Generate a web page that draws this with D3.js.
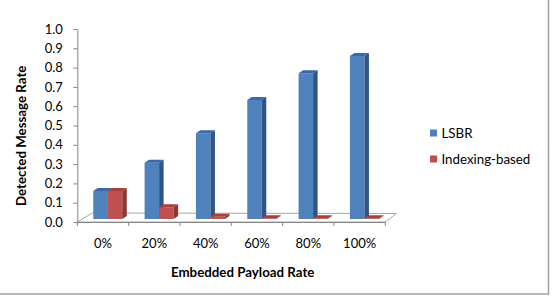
<!DOCTYPE html>
<html>
<head>
<meta charset="utf-8">
<script src="https://cdn.jsdelivr.net/npm/d3@7"></script>
<style>
  body { margin: 0; background: #fff; }
  svg { display: block; font-family: Lato, "Open Sans", sans-serif; }
</style>
</head>
<body>
<svg id="grafico"></svg>
<script>
// dados do gráfico
const categorias = ['0%', '20%', '40%', '60%', '80%', '100%'];
const series = ['LSBR', 'Indexing-based'];
const valoresLSBR = [0.145, 0.292, 0.444, 0.617, 0.755, 0.845];
const valoresIndexing = [0.145, 0.061, 0.012, 0.004, 0.004, 0.004];
const ticksY = [0, 0.1, 0.2, 0.3, 0.4, 0.5, 0.6, 0.7, 0.8, 0.9, 1.0];

const largura = 552, altura = 302;
const svg = d3.select('#grafico').attr('width', largura).attr('height', altura);

// cores (frente, topo, lado)
const cores = {
  'LSBR': ['#4f81bd', '#3b69a3', '#2f5487'],
  'Indexing-based': ['#c0504d', '#a8403d', '#8e3432']
};

// escalas
const fnY = d3.scaleLinear().domain([0, 1]).range([222, 29]);
const fnX = d3.scaleBand().domain(categorias).range([77.3, 385.3]);
const fnSerie = d3.scaleBand().domain(series).range([0, 29]);

// profundidade da barra
const frente = { dx: 4.8, dy: -3 };
const lado = { dx: 4.5, dy: -3 };

// piso
const y0 = fnY(0);
const xi = fnX.range()[0], xf = fnX.range()[1];
svg.append('path')
  .attr('d', `M${xi},${y0}L${xf},${y0}L${xf + 11},${y0 - 8.5}L${xi + 15},${y0 - 9}Z`)
  .attr('fill', '#fff')
  .attr('stroke', '#a6a6a6')
  .attr('stroke-width', 1);

// eixo y
const eixoY = svg.append('g').attr('transform', `translate(${xi},0)`)
  .call(d3.axisLeft(fnY).tickValues(ticksY).tickFormat(d3.format('.1f')).tickSize(4).tickSizeOuter(0));
eixoY.select('.domain').attr('stroke', '#868686');
eixoY.selectAll('line').attr('stroke', '#868686');
eixoY.selectAll('text').attr('font-size', 13).attr('fill', '#000').attr('font-family', 'Lato').attr('x', -14.5);

// eixo x
const eixoX = svg.append('g').attr('transform', `translate(0,${y0})`)
  .call(d3.axisBottom(fnX).tickSize(0).tickSizeOuter(0));
eixoX.select('.domain').attr('stroke', '#868686');
eixoX.selectAll('text').attr('font-size', 13).attr('fill', '#000').attr('font-family', 'Lato')
  .attr('y', 20.7).attr('dy', null).attr('dominant-baseline', 'central');
// marcas entre categorias
eixoX.selectAll('.marca')
  .data(d3.range(categorias.length + 1))
  .enter()
  .append('line')
  .attr('x1', i => xi + i * fnX.step())
  .attr('x2', i => xi + i * fnX.step())
  .attr('y1', 0).attr('y2', 4)
  .attr('stroke', '#868686');

// barras 3D
const dados = [];
categorias.forEach((c, i) => {
  dados.push({ cat: c, serie: 'LSBR', valor: valoresLSBR[i] });
  dados.push({ cat: c, serie: 'Indexing-based', valor: valoresIndexing[i] });
});

const barras = svg.selectAll('.barra')
  .data(dados)
  .enter()
  .append('g')
  .classed('barra', true);

function geometria(d) {
  const largBarra = fnSerie.bandwidth();
  const x0 = fnX(d.cat) + (fnX.bandwidth() - 29) / 2 + fnSerie(d.serie) + frente.dx;
  const x1 = x0 + largBarra;
  const yb = fnY(0) + frente.dy;
  const yt = fnY(d.valor) + frente.dy;
  return { x0, x1, yb, yt };
}

barras.append('path') // frente
  .attr('d', d => { const g = geometria(d); return `M${g.x0},${g.yb}L${g.x1},${g.yb}L${g.x1},${g.yt}L${g.x0},${g.yt}Z`; })
  .attr('fill', d => cores[d.serie][0]);
barras.append('path') // topo
  .attr('d', d => { const g = geometria(d); return `M${g.x0},${g.yt}L${g.x1},${g.yt}L${g.x1 + lado.dx},${g.yt + lado.dy}L${g.x0 + lado.dx},${g.yt + lado.dy}Z`; })
  .attr('fill', d => cores[d.serie][1]);
barras.append('path') // lado
  .attr('d', d => { const g = geometria(d); return `M${g.x1},${g.yb}L${g.x1 + lado.dx},${g.yb + lado.dy}L${g.x1 + lado.dx},${g.yt + lado.dy}L${g.x1},${g.yt}Z`; })
  .attr('fill', d => cores[d.serie][2]);

// títulos dos eixos
svg.append('text')
  .attr('x', 242.7).attr('y', 272.3)
  .attr('text-anchor', 'middle').attr('dominant-baseline', 'central')
  .attr('font-size', 13.3).attr('font-weight', 'bold')
  .text('Embedded Payload Rate');

svg.append('text')
  .attr('transform', 'translate(20.5,135.8) rotate(-90)')
  .attr('text-anchor', 'middle').attr('dominant-baseline', 'central')
  .attr('font-size', 13.3).attr('font-weight', 'bold')
  .text('Detected Message Rate');

// legenda
const legenda = svg.selectAll('.legenda')
  .data(series)
  .enter()
  .append('g')
  .classed('legenda', true)
  .attr('transform', (d, i) => `translate(430,${133 + i * 26})`);
legenda.append('rect')
  .attr('x', 0).attr('y', -3.5).attr('width', 7).attr('height', 7)
  .attr('fill', d => cores[d][0]);
legenda.append('text')
  .attr('x', 11.5).attr('y', 0)
  .attr('dominant-baseline', 'central')
  .attr('font-size', 13.3)
  .text(d => d);

// borda do quadro
svg.append('line').attr('x1', 0).attr('x2', 549).attr('y1', 294).attr('y2', 294)
  .attr('stroke', '#a0a0a0').attr('stroke-width', 1.5);
svg.append('line').attr('x1', 548.5).attr('x2', 548.5).attr('y1', 0).attr('y2', 294.5)
  .attr('stroke', '#a0a0a0').attr('stroke-width', 1.5);
</script>
</body>
</html>
